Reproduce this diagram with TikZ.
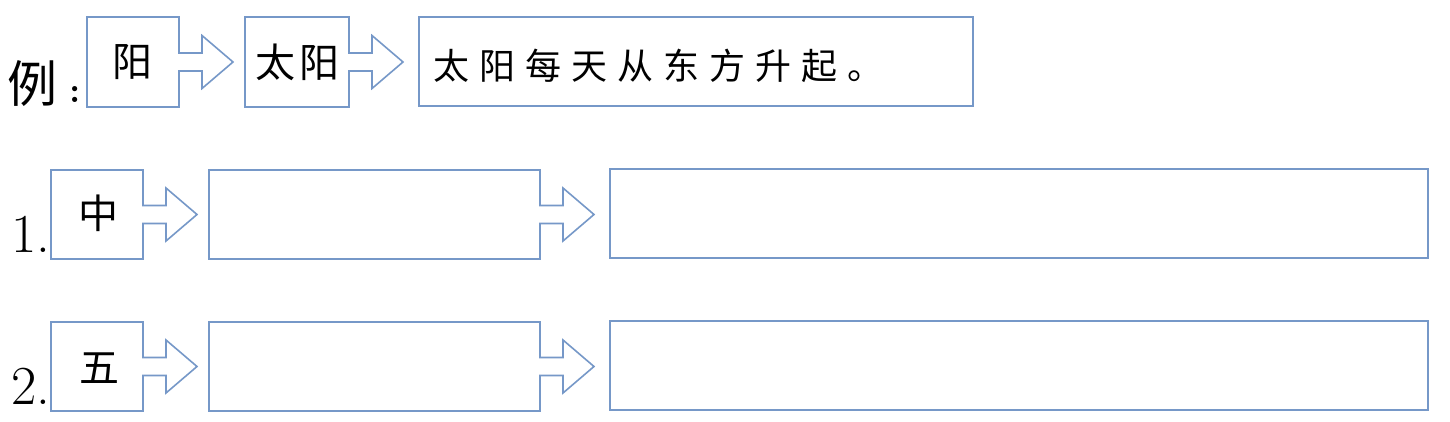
\documentclass[tikz,border=0pt]{standalone}
\usepackage{fontspec}
\newfontfamily\cjk{Noto Sans CJK SC}
\newfontfamily\cjklsa[LetterSpace=12]{Noto Sans CJK SC}
\newfontfamily\cjklsb[LetterSpace=28]{Noto Sans CJK SC}
\usetikzlibrary{calc}
\definecolor{boxblue}{RGB}{118,152,200}
\newcommand\arrbox[1]{%
  \draw[ln] (#1.south west) -- (#1.north west) -- (#1.north east)
    -- ($(#1.east)+(0,-9)$) -- ($(#1.east)+(23,-9)$) -- ($(#1.east)+(23,-26.5)$)
    -- ($(#1.east)+(54,0)$)
    -- ($(#1.east)+(23,26.5)$) -- ($(#1.east)+(23,9)$) -- ($(#1.east)+(0,9)$)
    -- (#1.south east) -- cycle;}
\begin{document}
\begin{tikzpicture}[x=1pt,y=-1pt,
  bx/.style={rectangle, inner sep=0pt, outer sep=0pt, minimum width=#1},
  plainbox/.style={bx=#1, draw=boxblue, line width=1.6pt},
  ln/.style={draw=boxblue, line width=1.6pt, line join=miter},
  cj/.style={inner sep=0pt, font=\cjk\fontsize{40}{44}\selectfont},
  cjs/.style={inner sep=0pt, anchor=west},
  num/.style={inner sep=0pt, anchor=base west, font=\fontsize{55}{60}\selectfont}]
\fill[white] (0,0) rectangle (1450,421);
\useasboundingbox (0,0) rectangle (1450,421);
% example row
\node[bx=92pt, minimum height=90pt] (e1) at (133,62) {};
\node[bx=104pt, minimum height=90pt] (e2) at (297,62) {};
\node[plainbox=554pt, minimum height=89pt] (e3) at (696,61.5) {};
\arrbox{e1}
\arrbox{e2}
\node[font=\cjk\fontsize{50}{54}\selectfont, inner sep=0pt] (li) at (33,84) {例};
\node[font=\bfseries\fontsize{36}{40}\selectfont, inner sep=0pt] (colon) at (75,95) {:};
\node[cj] (tyang) at (132,62.5) {阳};
\node[cjs, font=\cjklsa\fontsize{40}{44}\selectfont] (ttaiyang) at (255,62) {太阳};
\node[cjs, font=\cjklsb\fontsize{36}{40}\selectfont] (tsent) at (433,66) {太阳每天从东方升起。};
% row 1
\node[bx=92pt, minimum height=89pt] (a1) at (97,214.5) {};
\node[bx=331pt, minimum height=89pt] (a2) at (374.5,214.5) {};
\node[plainbox=818pt, minimum height=89pt] (a3) at (1019,213.5) {};
\arrbox{a1}
\arrbox{a2}
\node[num] (n1) at (11,252) {1.};
\node[cj] (tzhong) at (98.5,213) {中};
% row 2
\node[bx=92pt, minimum height=89pt] (b1) at (97,366.5) {};
\node[bx=331pt, minimum height=89pt] (b2) at (374.5,366.5) {};
\node[plainbox=818pt, minimum height=89pt] (b3) at (1019,365.5) {};
\arrbox{b1}
\arrbox{b2}
\node[num] (n2) at (11,404) {2.};
\node[cj] (twu) at (99,368) {五};
\end{tikzpicture}
\end{document}
